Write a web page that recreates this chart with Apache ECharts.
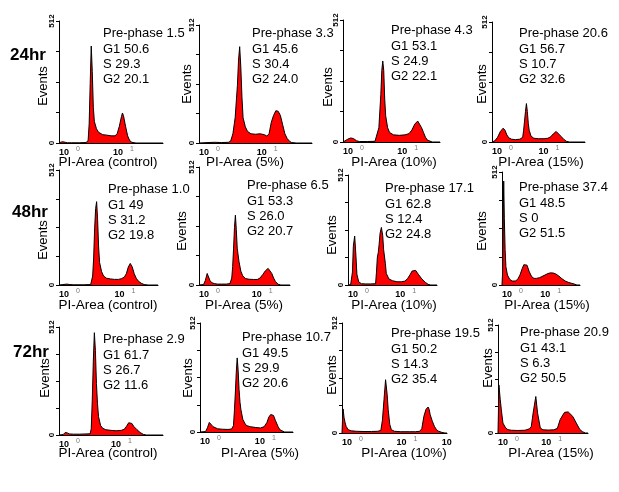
<!DOCTYPE html>
<html><head><meta charset="utf-8">
<script src="https://cdn.jsdelivr.net/npm/echarts@6/dist/echarts.min.js"></script>
<style>html,body{margin:0;padding:0;background:#fff}#c{width:619px;height:492px}</style>
</head><body><div id="c"></div>
<script>
// ---------- labels ----------
const rowLabels = ['24hr', '48hr', '72hr'];
const conditions = ['control', '5%', '10%', '15%'];
const yAxisTitle = 'Events';
const prePhase = [['1.5', '3.3', '4.3', '20.6'], ['1.0', '6.5', '17.1', '37.4'], ['2.9', '10.7', '19.5', '20.9']];
const g1Values = [['50.6', '45.6', '53.1', '56.7'], ['49', '53.3', '62.8', '48.5'], ['61.7', '49.5', '50.2', '43.1']];
const sValues = [['29.3', '30.4', '24.9', '10.7'], ['31.2', '26.0', '12.4', '0'], ['26.7', '29.9', '14.3', '6.3']];
const g2Values = [['20.1', '24.0', '22.1', '32.6'], ['19.8', '20.7', '24.8', '51.5'], ['11.6', '20.6', '35.4', '50.5']];
const yTickLabels = [0, 512];
// decade tick positions along each PI-Area axis (axis runs 0..100)
const decadeTicks = [
  [[0, 52], [0, 51], [0, 56], [0, 50]],
  [[0, 56], [0, 58], [0, 53], [0, 49]],
  [[0, 50], [0, 59], [0, 52, 95], [0, 48]]
];
const decadeExponents = ['0', '1', ''];

// ---------- histograms: [PI-Area position, events] ----------
const hist_24_control = [[0,0],[2,4],[4,5],[6,3],[8,1],[12,1],[20,1],[26,2],[28,10],[29,80],[30,250],[31,407],[32,300],[33,150],[34,90],[36,60],[38,45],[42,35],[46,33],[50,30],[54,30],[56,40],[58,70],[60,110],[61,126],[62,115],[64,70],[66,30],[68,10],[70,3],[74,0],[100,0]];
const hist_24_5 = [[0,0],[8,2],[14,3],[20,2],[26,3],[28,8],[30,40],[32,110],[34,250],[35,360],[36,418],[37,330],[38,200],[39,110],[41,70],[43,50],[46,40],[50,38],[54,40],[58,36],[60,30],[62,40],[64,90],[66,120],[67,130],[68,140],[69,145],[70,138],[71,140],[72,120],[74,80],[76,40],[78,20],[80,8],[82,2],[86,0],[100,0]];
const hist_24_10 = [[0,0],[2,8],[5,12],[8,17],[11,14],[14,5],[17,2],[25,2],[33,3],[35,10],[37,60],[39,200],[40,300],[41,340],[42,300],[43,180],[44,110],[46,60],[48,40],[52,30],[58,28],[64,30],[68,35],[71,50],[74,75],[77,88],[79,80],[81,60],[83,40],[85,20],[87,8],[89,2],[92,0],[100,0]];
const hist_24_15 = [[0,0],[3,5],[6,20],[9,45],[12,59],[14,50],[16,30],[18,18],[21,12],[25,10],[30,12],[33,20],[34,50],[35,90],[36,130],[37,164],[38,130],[39,80],[40,50],[42,25],[45,16],[50,14],[56,14],[60,16],[63,22],[66,35],[69,45],[71,40],[74,25],[77,12],[80,3],[83,0],[100,0]];
const hist_48_control = [[0,0],[4,2],[8,4],[11,2],[15,1],[25,1],[32,2],[33,10],[34,40],[35,120],[36,250],[37,340],[38,371],[39,290],[40,170],[41,100],[43,60],[45,40],[48,30],[52,27],[56,25],[60,25],[63,28],[66,35],[68,50],[70,80],[72,96],[74,80],[76,50],[78,30],[80,18],[83,8],[86,2],[90,0],[100,0]];
const hist_48_5 = [[0,0],[5,2],[7,20],[9,50],[10,40],[12,20],[14,10],[17,6],[20,4],[25,4],[30,4],[34,6],[36,30],[37,80],[38,160],[39,250],[40,303],[41,240],[42,160],[44,100],[46,60],[48,40],[51,28],[55,25],[60,24],[64,24],[67,30],[70,45],[73,62],[76,72],[78,68],[80,50],[82,30],[84,15],[87,3],[90,0],[100,0]];
const hist_48_10 = [[0,0],[3,2],[5,60],[6,180],[7.5,228],[9,130],[10,50],[12,15],[15,6],[20,5],[25,5],[31,6],[32,60],[33,130],[34,150],[35,190],[36,240],[37.5,268],[39,230],[40,165],[42,100],[43,54],[46,28],[50,20],[55,15],[60,15],[64,18],[67,30],[70,50],[72,65],[74,73],[76,68],[79,50],[83,28],[87,12],[90,3],[93,0],[100,0]];
const hist_48_15 = [[0,0],[0.8,60],[1.5,300],[2.2,471],[3,300],[4,160],[5,83],[7,45],[10,25],[13,18],[17,18],[20,25],[23,45],[26,75],[28,92],[30,98],[32,90],[35,60],[38,38],[41,30],[44,30],[48,33],[51,38],[55,45],[59,52],[62,55],[64,56],[66,54],[69,50],[73,40],[77,28],[81,18],[85,12],[89,8],[93,4],[96,0],[100,0]];
const hist_72_control = [[0,0],[4,2],[6,12],[7,19],[8,10],[10,5],[14,4],[20,4],[26,5],[30,6],[31,30],[32,165],[33,350],[34,485],[35,400],[36,244],[37,150],[38,87],[40,45],[42,32],[45,25],[50,22],[55,20],[60,22],[63,28],[65,42],[67,58],[68,63],[70,55],[72,40],[75,25],[78,12],[81,3],[84,0],[100,0]];
const hist_72_5 = [[0,0],[6,2],[8,20],[10,45],[11,50],[12,40],[14,25],[16,19],[19,15],[24,13],[30,12],[34,14],[36,30],[37,100],[38,183],[39,280],[40,348],[41,290],[42,200],[43,140],[44,105],[46,60],[48,42],[50,30],[54,25],[60,21],[65,19],[69,25],[72,45],[74,70],[76,82],[77,85],[79,78],[81,55],[84,25],[86,10],[88,2],[91,0],[100,0]];
const hist_72_10 = [[0,0],[0.5,60],[1,112],[2,70],[3,47],[4,30],[6,15],[9,10],[14,8],[20,7],[28,7],[34,8],[37,12],[38.5,60],[40,155],[41.5,248],[43,180],[44,109],[45.5,40],[47,15],[50,8],[56,6],[64,6],[70,6],[74,8],[76,20],[78,78],[80,110],[81,116],[82,121],[83,110],[84,85],[86,55],[88,31],[90,15],[92,8],[95,3],[98,0],[100,0]];
const hist_72_15 = [[0,0],[0.5,100],[1,228],[2.5,158],[3.7,110],[5.5,47],[8.5,24],[11,16],[15,13],[22,12],[30,13],[35,20],[37,31],[39,94],[42,173],[44,94],[47,24],[50,15],[56,14],[62,15],[66,22],[69,63],[72,85],[74,98],[76,106],[78,100],[80,94],[83,79],[87,47],[91,16],[94,6],[97,0],[100,0]];

const histograms = [
  [hist_24_control, hist_24_5, hist_24_10, hist_24_15],
  [hist_48_control, hist_48_5, hist_48_10, hist_48_15],
  [hist_72_control, hist_72_5, hist_72_10, hist_72_15]
];

// ---------- layout (pixels) ----------
const panelBox = [
  [[59,21,104,122],[199,25,113,118],[343,20,97,122],[492,22,93,120]],
  [[59,170,99,115],[199,167,91,118],[348,175,89,110],[502,172,78,113]],
  [[59,327,104,108],[200,323,93,109],[342,323,105,110],[498,325,90,108]]
];
const statsPos = [
  [[103,26],[252,26],[391,23],[519,26]],
  [[108,182],[247,178],[385,181],[519,180]],
  [[103,332],[242,330],[391,326],[520,325]]
];
const xTitlePos = [
  [[108,162],[245,162],[394,162],[541,162]],
  [[108,305],[244,305],[394,305],[547,305]],
  [[108,453],[260,453],[404,453],[551,453]]
];
const eventsPos = [
  [[43,86],[187,84],[328,87],[482,84]],
  [[43,240],[182,231],[332,235],[482,231]],
  [[45,378],[188,378],[332,375],[488,368]]
];
const rowLabelPos = [[10,55],[12,212],[13,352]];

const grid = [], xAxis = [], yAxis = [], series = [], graphic = [];
for (let r = 0; r < 3; r++) {
  graphic.push({type:'text', x: rowLabelPos[r][0], y: rowLabelPos[r][1],
    style:{text: rowLabels[r], font:'bold 17px "Liberation Sans", Arial, sans-serif', fill:'#000', textVerticalAlign:'middle'}});
  for (let c = 0; c < 4; c++) {
    const i = grid.length;
    const b = panelBox[r][c];
    const ticks = decadeTicks[r][c];
    grid.push({left:b[0], top:b[1], width:b[2], height:b[3], containLabel:false});
    xAxis.push({
      gridIndex:i, type:'value', min:0, max:100,
      axisLine:{show:true, lineStyle:{color:'#000', width:1}},
      axisTick:{show:false}, splitLine:{show:false},
      axisLabel:{
        customValues: ticks, align:'left', margin:3, showMinLabel:true, showMaxLabel:true, hideOverlap:false,
        formatter:(v) => '{b|10}{s|' + decadeExponents[ticks.indexOf(v)] + '}',
        rich:{b:{fontSize:9, fontWeight:'bold', color:'#000', fontFamily:'Liberation Sans'},
              s:{fontSize:7, color:'#777', padding:[0,0,6,7], fontFamily:'Liberation Sans'}}
      }
    });
    yAxis.push({
      gridIndex:i, type:'value', min:0, max:512, interval:128,
      axisLine:{show:true, lineStyle:{color:'#000', width:1}},
      axisTick:{show:true, length:3, lineStyle:{color:'#000'}},
      splitLine:{show:false},
      axisLabel:{rotate:90, fontSize:8, fontWeight:'bold', color:'#000', margin:3,
        formatter: v => yTickLabels.indexOf(v) >= 0 ? String(v) : ''}
    });
    series.push({
      type:'line', xAxisIndex:i, yAxisIndex:i, data: histograms[r][c],
      symbol:'none', lineStyle:{color:'#000', width:1},
      areaStyle:{color:'#ff0000', opacity:1}, silent:true
    });
    graphic.push({type:'text', x: eventsPos[r][c][0], y: eventsPos[r][c][1], rotation: Math.PI / 2,
      style:{text: yAxisTitle, font:'13px "Liberation Sans", Arial, sans-serif', fill:'#000',
        textAlign:'center', textVerticalAlign:'middle'}});
    graphic.push({type:'text', left: statsPos[r][c][0], top: statsPos[r][c][1],
      style:{text: 'Pre-phase ' + prePhase[r][c] + '\nG1 ' + g1Values[r][c] + '\nS ' + sValues[r][c] + '\nG2 ' + g2Values[r][c],
        font:'13px "Liberation Sans", Arial, sans-serif', lineHeight:15.3, fill:'#000'}});
    graphic.push({type:'text', x: xTitlePos[r][c][0], y: xTitlePos[r][c][1],
      style:{text:'PI-Area (' + conditions[c] + ')', font:'13.5px "Liberation Sans", Arial, sans-serif',
        fill:'#000', textAlign:'center', textVerticalAlign:'middle'}});
  }
}

const chart = echarts.init(document.getElementById('c'), null, {renderer:'canvas'});
chart.setOption({
  animation:false, backgroundColor:'#fff',
  textStyle:{fontFamily:'"Liberation Sans", Arial, sans-serif'},
  grid, xAxis, yAxis, series, graphic
});
</script></body></html>
